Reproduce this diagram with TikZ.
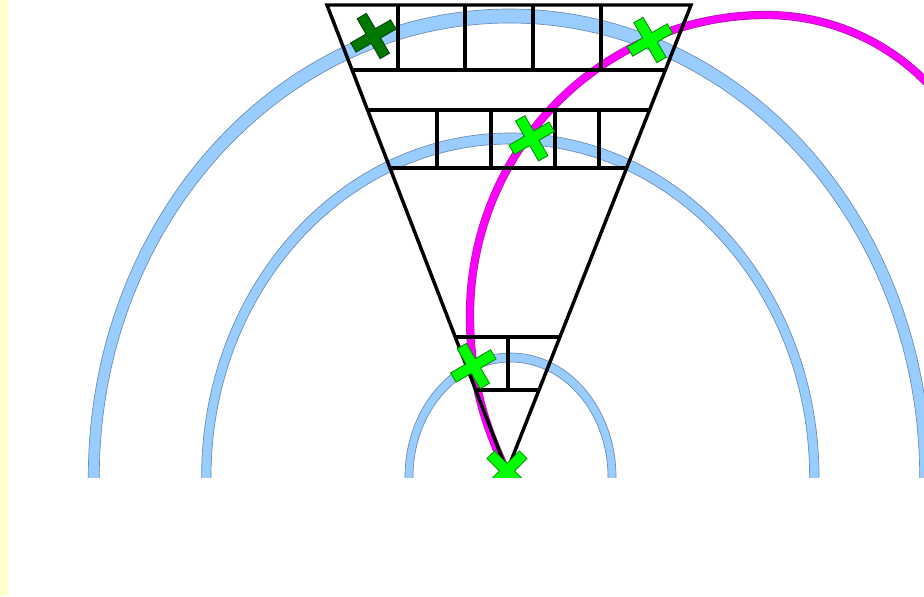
\documentclass[tikz,border=0pt]{standalone}
\usetikzlibrary{calc}
\definecolor{bandblue}{HTML}{99CCFF}
\definecolor{bandedge}{HTML}{6A8CB4}
\definecolor{mag}{HTML}{FF00FF}
\definecolor{magedge}{HTML}{A020A0}
\definecolor{lgreen}{HTML}{00FF00}
\definecolor{dgreen}{HTML}{007800}
\definecolor{stripy}{HTML}{FFFFCC}
\tikzset{
  gridline/.style={line width=2.6pt, black},
  bandfill/.style={fill=bandblue, even odd rule},
  bandline/.style={draw=bandedge, line width=0.5pt},
}
\newcommand\mycross[4]{%
  \begin{scope}[shift={(#1,#2)}, rotate=#3]
    \draw[line width=1.5pt, draw=#4!55!black, line join=miter]
      (-22.5,-4.8) rectangle (22.5,4.8) (-4.8,-22.5) rectangle (4.8,22.5);
    \fill[#4] (-22.5,-4.8) rectangle (22.5,4.8) (-4.8,-22.5) rectangle (4.8,22.5);
  \end{scope}}
\newcommand\magpath{(505,468) .. controls (485,425) and (470,380) .. (470,315)
    .. controls (470,149.3) and (602.5,15) .. (766,15)
    .. controls (890.3,15) and (991,115.7) .. (991,240)}
\begin{document}
\begin{tikzpicture}[x=0.75pt, y=-0.75pt]
\useasboundingbox (0,0) rectangle (924,596);
\fill[white] (0,0) rectangle (924,596);
\fill[stripy] (0,0) rectangle (8,596);

\begin{scope}
  \clip (0,0) rectangle (924,477.5);
  % blue half-ellipse bands
  \fill[bandfill] (509.5,477) ellipse [x radius=421.2, y radius=468]
                  (509.5,477) ellipse [x radius=410.2, y radius=454];
  \draw[bandline] (509.5,477) ellipse [x radius=421.2, y radius=468]
                  (509.5,477) ellipse [x radius=410.2, y radius=454];
  \fill[bandfill] (510.3,477) ellipse [x radius=308.7, y radius=344]
                  (510.3,477) ellipse [x radius=299.3, y radius=333];
  \draw[bandline] (510.3,477) ellipse [x radius=308.7, y radius=344]
                  (510.3,477) ellipse [x radius=299.3, y radius=333];
  \fill[bandfill] (510.5,477) ellipse [x radius=105.5, y radius=124]
                  (510.5,477) ellipse [x radius=97.5, y radius=115];
  \draw[bandline] (510.5,477) ellipse [x radius=105.5, y radius=124]
                  (510.5,477) ellipse [x radius=97.5, y radius=115];

  % magenta curve
  \draw[magedge, line width=6.2pt] \magpath;
  \draw[mag, line width=5.2pt] \magpath;

  % triangle and grid
  \coordinate (L) at (327,5);
  \coordinate (R) at (691,5);
  \coordinate (A) at (507,471);
  \draw[gridline, line join=miter] (L) -- (R) -- (A) -- cycle;
  \foreach \t in {0.1395,0.2253,0.3498,0.7124,0.8262}{
    \draw[gridline] ($(L)!\t!(A)$) -- ($(R)!\t!(A)$);
  }
  \foreach \xx in {398,465,533,601}{
    \draw[gridline] (\xx,5) -- (\xx,70);
  }
  \foreach \xx in {437,491,555,599}{
    \draw[gridline] (\xx,110) -- (\xx,168);
  }
  \draw[gridline] (508,337) -- (508,390);

  % crosses
  \mycross{373.3}{36}{30}{dgreen}
  \mycross{650}{40}{30}{lgreen}
  \mycross{531.7}{138.3}{30}{lgreen}
  \mycross{473.3}{366}{30}{lgreen}
  \mycross{507}{471}{45}{lgreen}
\end{scope}
\end{tikzpicture}
\end{document}
